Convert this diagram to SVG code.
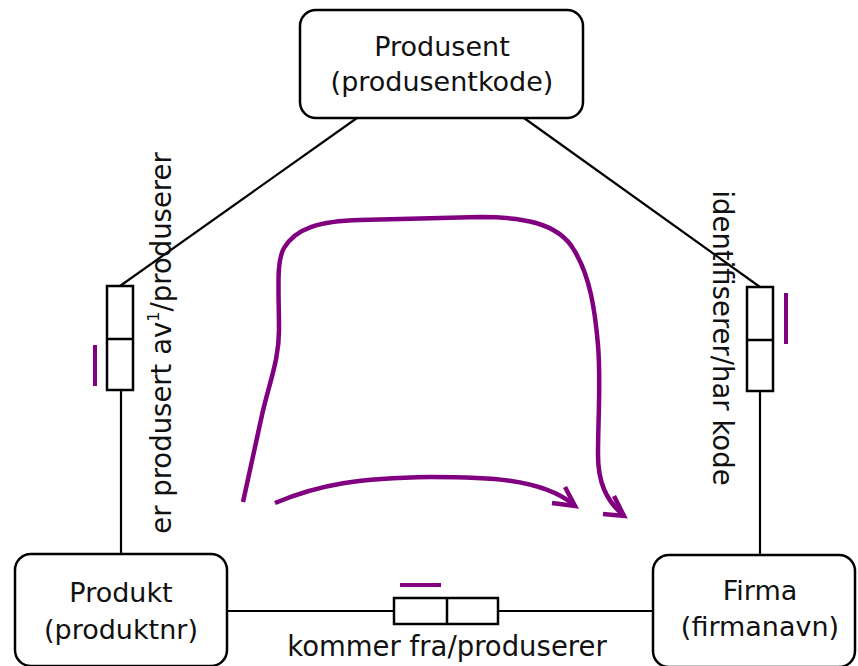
<svg xmlns="http://www.w3.org/2000/svg" width="858" height="666" viewBox="0 0 858 666">
  <style>
    .node { fill: #fff; stroke: #000; stroke-width: 2.5; }
    .rel { fill: #fff; stroke: #000; stroke-width: 2.5; }
    .line { fill: none; stroke: #000; stroke-width: 2.2; }
    .txt { font-family: "DejaVu Sans", Verdana, sans-serif; font-size: 27px; fill: #111; text-anchor: middle; }
    .lbl { font-family: "DejaVu Sans", Verdana, sans-serif; font-size: 27.5px; fill: #111; text-anchor: middle; }
    .mark { fill: none; stroke: #800080; stroke-width: 4; stroke-linecap: butt; }
    .flow { fill: none; stroke: #800080; stroke-width: 4.5; stroke-linecap: butt; stroke-linejoin: miter; }
  </style>

  <rect width="858" height="666" fill="#fff"/>

  <!-- connectors -->
  <g id="connectors">
    <line class="line" x1="357" y1="118" x2="120" y2="286"/>
    <line class="line" x1="121" y1="390" x2="121" y2="554"/>
    <line class="line" x1="524" y1="118" x2="760" y2="287"/>
    <line class="line" x1="760" y1="391" x2="760" y2="555"/>
    <line class="line" x1="227" y1="611" x2="394" y2="611"/>
    <line class="line" x1="498" y1="611" x2="653" y2="611"/>
  </g>

  <!-- relationship boxes -->
  <g id="rel-produsert">
    <rect class="rel" x="107" y="286" width="26" height="104"/>
    <line class="rel" x1="107" y1="339" x2="133" y2="339"/>
    <text class="lbl" transform="translate(171,343) rotate(-90)">er produsert av<tspan font-size="16" dy="-12">1</tspan><tspan dy="12">/produserer</tspan></text>
    <line class="mark" x1="95" y1="345" x2="95" y2="386"/>
  </g>

  <g id="rel-identifiserer">
    <rect class="rel" x="747" y="287" width="26" height="104"/>
    <line class="rel" x1="747" y1="340" x2="773" y2="340"/>
    <text class="lbl" transform="translate(713,338) rotate(90)">identifiserer/har kode</text>
    <line class="mark" x1="786" y1="293" x2="786" y2="344"/>
  </g>

  <g id="rel-kommer">
    <rect class="rel" x="394" y="598" width="104" height="26"/>
    <line class="rel" x1="447" y1="598" x2="447" y2="624"/>
    <text class="lbl" x="447" y="656">kommer fra/produserer</text>
    <line class="mark" x1="400" y1="585" x2="441" y2="585"/>
  </g>

  <!-- entities -->
  <g id="node-produsent">
    <rect class="node" x="300" y="10" width="283" height="108" rx="16"/>
    <text class="txt" x="442" y="56">Produsent</text>
    <text class="txt" x="442" y="91">(produsentkode)</text>
  </g>

  <g id="node-produkt">
    <rect class="node" x="15" y="554" width="212" height="112" rx="16"/>
    <text class="txt" x="121" y="602">Produkt</text>
    <text class="txt" x="121" y="639">(produktnr)</text>
  </g>

  <g id="node-firma">
    <rect class="node" x="653" y="555" width="202" height="112" rx="16"/>
    <text class="txt" x="760" y="600">Firma</text>
    <text class="txt" x="760" y="636">(firmanavn)</text>
  </g>

  <!-- hand-drawn reading arrows -->
  <g id="annotations">
    <path class="flow" d="M243,502 L262,415 C270,380 279,360 279,330 C279,290 276,262 284,248 C296,228 320,221 360,220 L480,217 C520,217 558,222 574,250 C590,276 595,310 598,345 C601,380 598,420 598,455 C598,482 606,500 623,515"/>
    <path class="flow" d="M614,496 L624,516 L603,514"/>
    <path class="flow" d="M275,503 C320,484 360,478 430,477 C485,477 540,478 573,504"/>
    <path class="flow" d="M565,487 L575,506 L552,503"/>
  </g>
</svg>
